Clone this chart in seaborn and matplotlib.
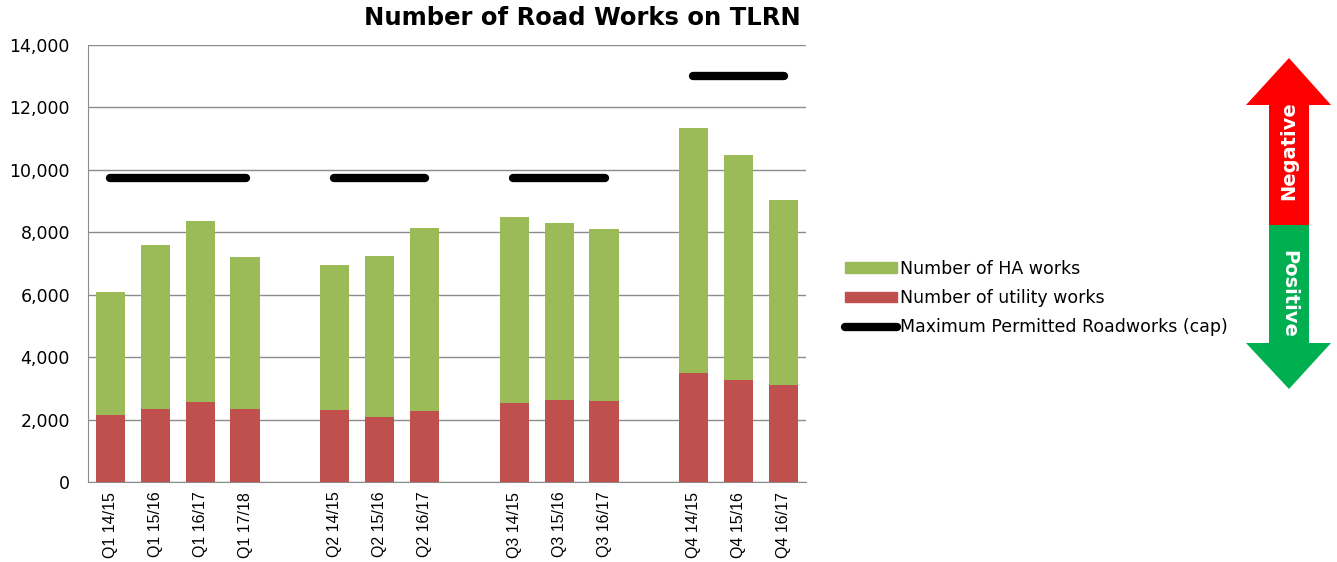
import matplotlib
matplotlib.use("Agg")
import matplotlib.pyplot as plt
import matplotlib.patches as mpatches
from matplotlib.lines import Line2D
import pandas as pd
import seaborn as sns

## Data

quarters = ['Q1 14/15', 'Q1 15/16', 'Q1 16/17', 'Q1 17/18',
            'Q2 14/15', 'Q2 15/16', 'Q2 16/17',
            'Q3 14/15', 'Q3 15/16', 'Q3 16/17',
            'Q4 14/15', 'Q4 15/16', 'Q4 16/17']
utility_works = [2150, 2350, 2560, 2350,
                 2300, 2080, 2270,
                 2530, 2630, 2600,
                 3500, 3280, 3100]
total_works = [6100, 7600, 8350, 7200,
               6950, 7250, 8150,
               8480, 8300, 8100,
               11350, 10480, 9050]
ha_works = [t - u for t, u in zip(total_works, utility_works)]

cap_groups = [['Q1 14/15', 'Q1 17/18'], ['Q2 14/15', 'Q2 16/17'],
              ['Q3 14/15', 'Q3 16/17'], ['Q4 14/15', 'Q4 16/17']]
cap_values = [9750, 9750, 9750, 13000]

# blank slots between quarter groups
order = quarters[:4] + [' '] + quarters[4:7] + ['  '] + quarters[7:10] + ['   '] + quarters[10:]

df = pd.DataFrame({'quarter': quarters, 'utility': utility_works,
                   'ha': ha_works, 'total': total_works})

green = '#9BBB59'
red = '#C0504D'

sns.set_style('white')
plt.rcParams['font.family'] = ['DejaVu Sans']
plt.rcParams['text.color'] = 'black'
plt.rcParams['xtick.color'] = 'black'
plt.rcParams['ytick.color'] = 'black'

fig = plt.figure(figsize=(13.37, 5.62), dpi=100)
ax = fig.add_axes([88 / 1337, 1 - 482 / 562, (806 - 88) / 1337, (482 - 45) / 562])

sns.barplot(data=df, x='quarter', y='total', order=order, color=green,
            width=0.65, saturation=1, linewidth=0, ax=ax, zorder=2)
sns.barplot(data=df, x='quarter', y='utility', order=order, color=red,
            width=0.65, saturation=1, linewidth=0, ax=ax, zorder=3)

pos = {q: i for i, q in enumerate(order)}
for (a, b), v in zip(cap_groups, cap_values):
    ax.plot([pos[a] - 0.02, pos[b] + 0.02], [v, v], color='black', lw=6,
            solid_capstyle='round', zorder=4)

ax.set_xlim(-0.5, len(order) - 0.5)
ax.set_ylim(0, 14000)
ax.set_yticks(range(0, 14001, 2000))
ax.set_yticklabels([f'{v:,}' for v in range(0, 14001, 2000)], fontsize=12.5)
ax.set_xticks(range(len(order)))
ax.set_xticklabels(order, rotation=90, fontsize=11.5, family='Liberation Sans')
ax.tick_params(length=0, labelcolor='black')
ax.tick_params(axis='y', pad=13)
ax.tick_params(axis='x', pad=7)
ax.yaxis.grid(True, color='#8c8c8c', lw=1)
ax.set_axisbelow(True)
ax.set_xlabel('')
ax.set_ylabel('')
for side in ['top', 'right']:
    ax.spines[side].set_visible(False)
for side in ['left', 'bottom']:
    ax.spines[side].set_color('#8c8c8c')

fig.text(582 / 1337, 1 - 18 / 562, 'Number of Road Works on TLRN',
         ha='center', va='center', fontsize=17.5, fontweight='bold',
         color='black')

handles = [mpatches.Patch(color=green), mpatches.Patch(color=red),
           Line2D([], [], color='black', lw=6)]
labels = ['Number of HA works', 'Number of utility works',
          'Maximum Permitted Roadworks (cap)']
fig.legend(handles, labels, loc='center left', frameon=False,
           bbox_to_anchor=(829 / 1337, 1 - 298 / 562), fontsize=12.5,
           handlelength=3.0, handleheight=0.55, handletextpad=0.2,
           labelspacing=0.65, labelcolor='black')

## Arrow on the right, drawn in pixel coordinates
ov = fig.add_axes([0, 0, 1, 1])
ov.set_xlim(0, 1337)
ov.set_ylim(562, 0)
ov.axis('off')
up = [(1289, 58), (1331, 105), (1309, 105), (1309, 225), (1269, 225),
      (1269, 105), (1246, 105)]
down = [(1269, 225), (1309, 225), (1309, 343), (1331, 343), (1289, 389),
        (1246, 343), (1269, 343)]
ov.add_patch(mpatches.Polygon(up, closed=True, color='#FF0000', lw=0))
ov.add_patch(mpatches.Polygon(down, closed=True, color='#00B050', lw=0))
ov.text(1289, 151, 'Negative', rotation=90, color='white', ha='center',
        va='center', fontsize=14, fontweight='bold')
ov.text(1289, 294, 'Positive', rotation=-90, color='white', ha='center',
        va='center', fontsize=14, fontweight='bold')

fig.savefig('out.png', dpi=100)
